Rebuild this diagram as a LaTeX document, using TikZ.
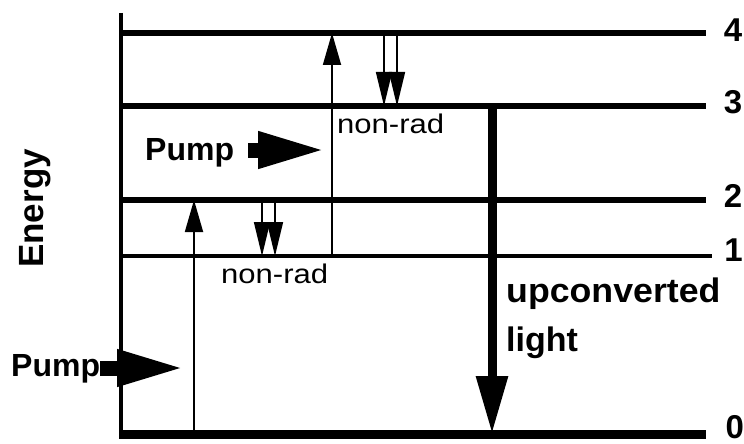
\documentclass[tikz,border=0pt]{standalone}
\usepackage{fontspec}
\setmainfont{Liberation Sans}
\usetikzlibrary{arrows.meta}

\begin{document}
\begin{tikzpicture}[x=1pt, y=-1pt,
  level/.style={line width=5.5pt},
  uparrow/.style={line width=1.8pt, -{Triangle[length=32pt, width=18pt]}},
  nonrad/.style={line width=1.6pt, -{Triangle[length=34pt, width=16pt]}},
  pumparrow/.style={line width=15pt, -{Triangle[length=70pt, width=33pt]}},
  boldlabel/.style={font=\fontsize{32}{32}\selectfont\bfseries, inner sep=0pt},
  levellabel/.style={font=\fontsize{33}{33}\selectfont\bfseries, inner sep=0pt, anchor=west},
  thinlabel/.style={font=\fontsize{27}{27}\selectfont, inner sep=0pt}]
  \useasboundingbox (0,0) rectangle (744,444);

  % Levels
  \coordinate (L4) at (121,33);
  \coordinate (L3) at (121,106);
  \coordinate (L2) at (121,200);
  \coordinate (L1) at (121,256);
  \coordinate (L0) at (121,434);
  \draw[level] (L4) -- (706,33) node[levellabel, xshift=15pt, yshift=3pt] (n4) {4};
  \draw[level] (L3) -- (706,106) node[levellabel, xshift=15pt, yshift=4pt] (n3) {3};
  \draw[level] (L2) -- (706,200) node[levellabel, xshift=15pt, yshift=4pt] (n2) {2};
  \draw[line width=4.5pt] (L1) -- (712,256) node[levellabel, xshift=10pt, yshift=6pt] (n1) {1};
  \draw[line width=9pt] (L0) -- (706,434) node[levellabel, xshift=15pt, yshift=7pt] (n0) {0};

  % Axis
  \draw[line width=4.5pt] (121,13) -- (121,438.5);
  \node[font=\fontsize{35}{35}\selectfont\bfseries, rotate=90, anchor=base west, inner sep=0pt]
    (energy) at (43,268) {Energy};

  % Pumping steps
  \draw[uparrow] (194,0 |- L0) -- (194,0 |- L2);
  \draw[uparrow] (332,0 |- L1) -- (332,0 |- L4);
  \draw[pumparrow] (100,368) -- (187,368);
  \draw[pumparrow] (248,150) -- (328,150);
  \node[boldlabel, anchor=base west] (pump1) at (11,376) {Pump};
  \node[boldlabel, anchor=base west] (pump2) at (145,160) {Pump};

  % Non-radiative decays
  \draw[nonrad] (262,0 |- L2) -- (262,0 |- L1);
  \draw[nonrad] (275,0 |- L2) -- (275,0 |- L1);
  \draw[nonrad] (384,0 |- L4) -- (384,0 |- L3);
  \draw[nonrad] (397,0 |- L4) -- (397,0 |- L3);
  \node[thinlabel, anchor=base west] (nr1) at (221,283) {\scalebox{1.15}[1]{non-rad}};
  \node[thinlabel, anchor=base west] (nr2) at (337,133) {\scalebox{1.15}[1]{non-rad}};

  % Emission
  \draw[line width=9pt, -{Triangle[length=58pt, width=30pt]}] (492,0 |- L3) -- (492,0 |- L0);
  \node[font=\fontsize{34}{34}\selectfont\bfseries, anchor=base west, inner sep=0pt]
    (emit) at (506,302) {\scalebox{1.05}[1]{upconverted}};
  \node[font=\fontsize{34}{34}\selectfont\bfseries, anchor=base west, inner sep=0pt]
    (light) at (506,351) {light};
\end{tikzpicture}
\end{document}
